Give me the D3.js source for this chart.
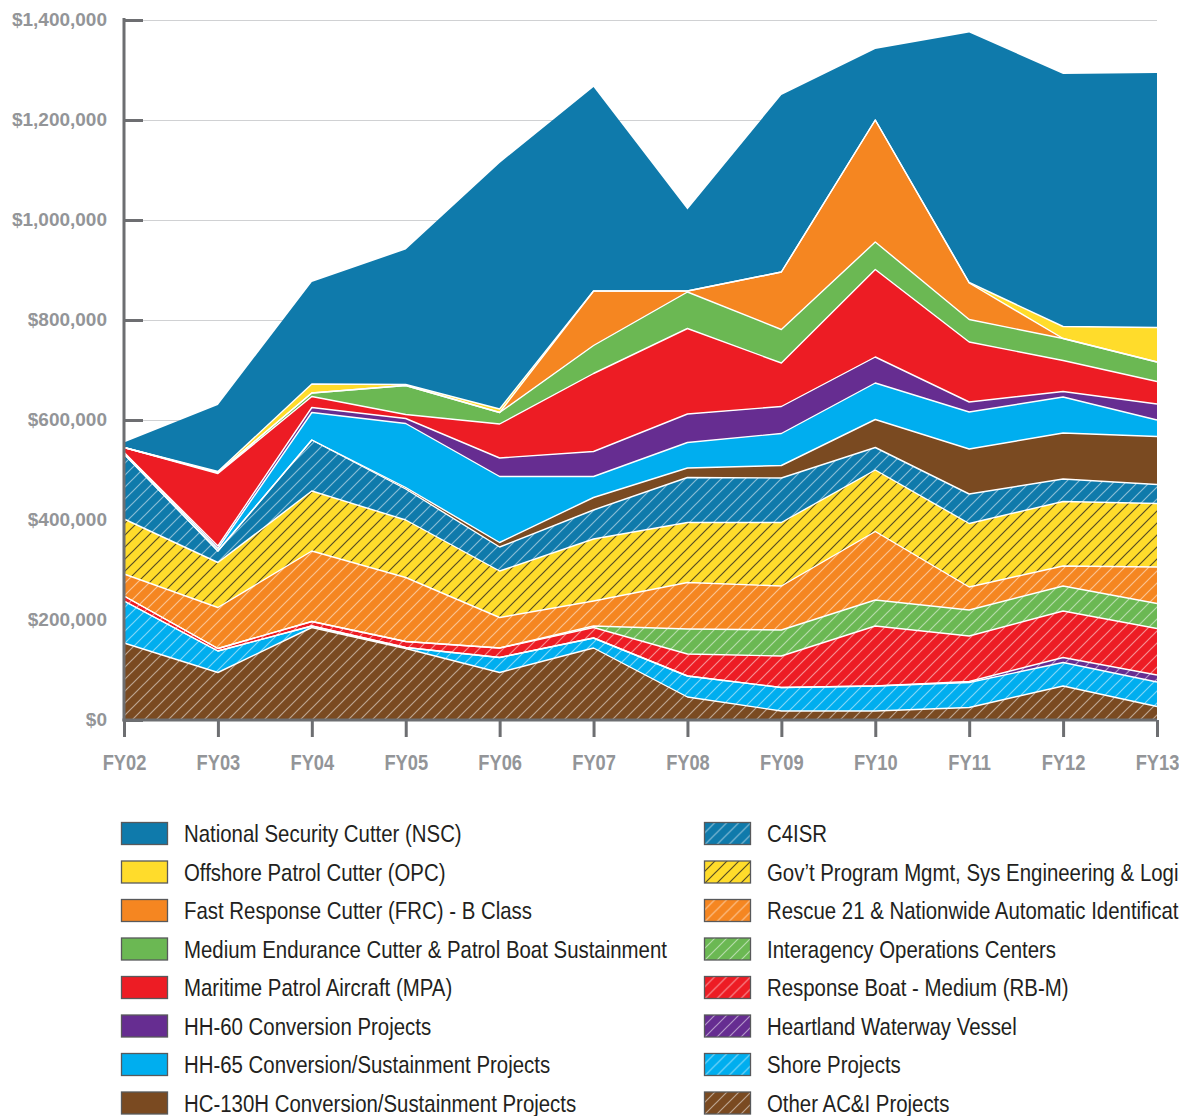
<!DOCTYPE html>
<html>
<head>
<meta charset="utf-8">
<script src="https://cdn.jsdelivr.net/npm/d3@7"></script>
<style>
  body { margin: 0; background: #fff; }
  svg { display: block; }
</style>
</head>
<body>
<div id="chart"></div>
<script>
var years = ["FY02", "FY03", "FY04", "FY05", "FY06", "FY07", "FY08", "FY09", "FY10", "FY11", "FY12", "FY13"];
var yTicks = [0, 200000, 400000, 600000, 800000, 1000000, 1200000, 1400000];

// values in $K (bottom of the stack first)
var otherACI   = [154000,  95000, 185000, 143000,  95000, 144000,  46000,  18000,  18000,  25000,  68000,  27000];
var shore      = [ 84000,  43000,   3000,   2000,  30000,  20000,  42000,  47000,  50000,  50000,  47000,  49000];
var heartland  = [     0,      0,      0,      0,      0,      0,      0,      0,      0,   2000,  10000,  14000];
var rbm        = [ 10000,   5000,   9000,  12000,  19000,  21000,  44000,  63000, 120000,  91000,  93000,  93000];
var ioc        = [     0,      0,      0,      0,      0,   3000,  50000,  52000,  52000,  52000,  50000,  50000];
var rescue21   = [ 44000,  82000, 141000, 128000,  61000,  50000,  93000,  88000, 137000,  46000,  40000,  73000];
var govtPM     = [110000,  90000, 120000, 115000,  93000, 124000, 120000, 127000, 123000, 127000, 129000, 127000];
var c4isr      = [130000,  23000, 102000,  62000,  48000,  58000,  90000,  89000,  45000,  59000,  45000,  38000];
var hc130      = [     0,      0,      0,   3000,   9000,  25000,  19000,  25000,  56000,  90000,  92000,  96000];
var hh65       = [  3000,   5000,  55000, 128000, 132000,  42000,  51000,  64000,  73000,  74000,  72000,  33000];
var hh60       = [     0,   5000,  10000,  10000,  37000,  50000,  57000,  54000,  52000,  20000,  11000,  32000];
var mpa        = [ 10000, 145000,  22000,   8000,  68000, 156000, 171000,  87000, 175000, 120000,  62000,  45000];
var medEnd     = [     0,   2000,   7000,  58000,  23000,  56000,  73000,  67000,  55000,  45000,  44000,  39000];
var frc        = [     0,      0,      0,      0,      0, 109000,   2000, 115000, 244000,  73000,      0,      0];
var opc        = [     0,   2000,  18000,   2000,   7000,      0,      0,      0,      0,   1000,  24000,  69000];
var nsc        = [ 10000, 133000, 204000, 270000, 492000, 408000, 163000, 354000, 142000, 500000, 505000, 509000];

var series = [
  {name: "Other AC&I Projects", values: otherACI, color: "#7a4a21", hatch: true},
  {name: "Shore Projects", values: shore, color: "#00aeef", hatch: true},
  {name: "Heartland Waterway Vessel", values: heartland, color: "#662d91", hatch: true},
  {name: "Response Boat - Medium (RB-M)", values: rbm, color: "#ed1c24", hatch: true},
  {name: "Interagency Operations Centers", values: ioc, color: "#6bb853", hatch: true},
  {name: "Rescue 21 & Nationwide Automatic Identification System", values: rescue21, color: "#f58621", hatch: true},
  {name: "Gov\u2019t Program Mgmt, Sys Engineering & Logistics", values: govtPM, color: "#ffdc2b", hatch: true, dark: true},
  {name: "C4ISR", values: c4isr, color: "#0f7aab", hatch: true},
  {name: "HC-130H Conversion/Sustainment Projects", values: hc130, color: "#7a4a21"},
  {name: "HH-65 Conversion/Sustainment Projects", values: hh65, color: "#00aeef"},
  {name: "HH-60 Conversion Projects", values: hh60, color: "#662d91"},
  {name: "Maritime Patrol Aircraft (MPA)", values: mpa, color: "#ed1c24"},
  {name: "Medium Endurance Cutter & Patrol Boat Sustainment", values: medEnd, color: "#6bb853"},
  {name: "Fast Response Cutter (FRC) - B Class", values: frc, color: "#f58621"},
  {name: "Offshore Patrol Cutter (OPC)", values: opc, color: "#ffdc2b"},
  {name: "National Security Cutter (NSC)", values: nsc, color: "#0f7aab"}
];

var width = 1179, height = 1116;
var x0 = 124, x1 = 1157, yTop = 20, yBase = 720;
var font = "'Liberation Sans', Arial, sans-serif";
var squeeze = 0.85;   // no narrow face installed, so condense by hand

var svg = d3.select("#chart").append("svg")
    .attr("width", width)
    .attr("height", height);

var x = d3.scalePoint().domain(years).range([x0, x1]);
var y = d3.scaleLinear().domain([0, 1400000]).range([yBase, yTop]);

// hatch patterns
var defs = svg.append("defs");
series.forEach(function(s, i) {
  if (!s.hatch) return;
  var p = defs.append("pattern")
      .attr("id", "hatch" + i)
      .attr("patternUnits", "userSpaceOnUse")
      .attr("width", 12)
      .attr("height", 12);
  p.append("rect").attr("width", 12).attr("height", 12).attr("fill", s.color);
  p.append("path")
      .attr("d", "M-3,3L3,-3M0,12L12,0M9,15L15,9")
      .attr("stroke", s.dark ? "#3a3320" : "#ffffff")
      .attr("stroke-opacity", s.dark ? 0.85 : 0.5)
      .attr("stroke-width", 1.2);
});
function fillOf(s, i) { return s.hatch ? "url(#hatch" + i + ")" : s.color; }

// gridlines + inner tick marks, behind the areas
svg.append("g")
    .attr("transform", "translate(" + x0 + ",0)")
    .call(d3.axisLeft(y).tickValues(yTicks).tickSize(-(x1 - x0)).tickFormat(""))
    .call(function(g) {
      g.select(".domain").remove();
      g.selectAll(".tick line").attr("stroke", "#d0d1d3").attr("stroke-width", 1);
    });
svg.append("g")
    .attr("transform", "translate(" + x0 + ",0)")
    .call(d3.axisRight(y).tickValues(yTicks).tickSize(19).tickFormat(""))
    .call(function(g) {
      g.select(".domain").remove();
      g.selectAll(".tick line").attr("stroke", "#6d6e71").attr("stroke-width", 3);
    });

// stacked areas
var rows = years.map(function(yr, i) {
  var r = {year: yr};
  series.forEach(function(s) { r[s.name] = s.values[i]; });
  return r;
});
var stacked = d3.stack().keys(series.map(function(s) { return s.name; }))(rows);

var area = d3.area()
    .x(function(d) { return x(d.data.year); })
    .y0(function(d) { return y(d[0]); })
    .y1(function(d) { return y(d[1]); });
var topLine = d3.line()
    .x(function(d) { return x(d.data.year); })
    .y(function(d) { return y(d[1]); });

svg.append("g")
  .selectAll("path")
  .data(stacked)
  .enter()
  .append("path")
    .attr("d", area)
    .attr("fill", function(d, i) { return fillOf(series[i], i); });

svg.append("g")
  .selectAll("path")
  .data(stacked.slice(0, stacked.length - 1))
  .enter()
  .append("path")
    .attr("d", topLine)
    .attr("fill", "none")
    .attr("stroke", "#ffffff")
    .attr("stroke-width", 1.4)
    .attr("stroke-linejoin", "round");

// y axis labels
svg.append("g")
    .attr("transform", "translate(" + x0 + ",0)")
    .call(d3.axisLeft(y).tickValues(yTicks).tickSize(0).tickPadding(17)
      .tickFormat(function(d) { return "$" + d3.format(",")(d); }))
    .call(function(g) {
      g.select(".domain").remove();
      g.selectAll(".tick text")
        .attr("fill", "#939598")
        .attr("dy", "0.3em")
        .style("font-family", font)
        .style("font-weight", "bold")
        .style("font-size", "19px");
    });

// x axis
svg.append("g")
    .attr("transform", "translate(0," + yBase + ")")
    .call(d3.axisBottom(x).tickSize(17).tickPadding(26))
    .call(function(g) {
      g.select(".domain").remove();
      g.selectAll(".tick line").attr("stroke", "#6d6e71").attr("stroke-width", 3);
      g.selectAll(".tick text")
        .attr("fill", "#939598")
        .attr("dy", "0.32em")
        .attr("transform", "scale(" + squeeze + ",1)")
        .style("font-family", font)
        .style("font-weight", "bold")
        .style("font-size", "21.5px");
    });

// axis lines on top
svg.append("line")
    .attr("x1", x0).attr("x2", x0).attr("y1", yTop - 2).attr("y2", yBase + 1.5)
    .attr("stroke", "#6d6e71").attr("stroke-width", 3);
svg.append("line")
    .attr("x1", x0 - 1.5).attr("x2", x1).attr("y1", yBase).attr("y2", yBase)
    .attr("stroke", "#6d6e71").attr("stroke-width", 3);

// legend: two columns, top of stack first
var legendItems = series.map(function(s, i) { return {s: s, i: i}; }).reverse();
var legend = svg.append("g")
  .selectAll("g")
  .data(legendItems)
  .enter()
  .append("g")
    .attr("transform", function(d, k) {
      var col = k < 8 ? 0 : 1;
      return "translate(" + (col ? 704 : 121) + "," + (833.5 + (k % 8) * 38.5) + ")";
    });
legend.append("rect")
    .attr("x", 0.5)
    .attr("y", -11)
    .attr("width", 46)
    .attr("height", 22)
    .attr("fill", function(d) { return fillOf(d.s, d.i); })
    .attr("stroke", "#58595b")
    .attr("stroke-width", 1.3);
legend.append("text")
    .attr("x", 63 / squeeze)
    .attr("dy", "0.36em")
    .attr("transform", "scale(" + squeeze + ",1)")
    .attr("fill", "#231f20")
    .style("font-family", font)
    .style("font-size", "24px")
    .text(function(d) { return d.s.name; });
</script>
</body>
</html>
